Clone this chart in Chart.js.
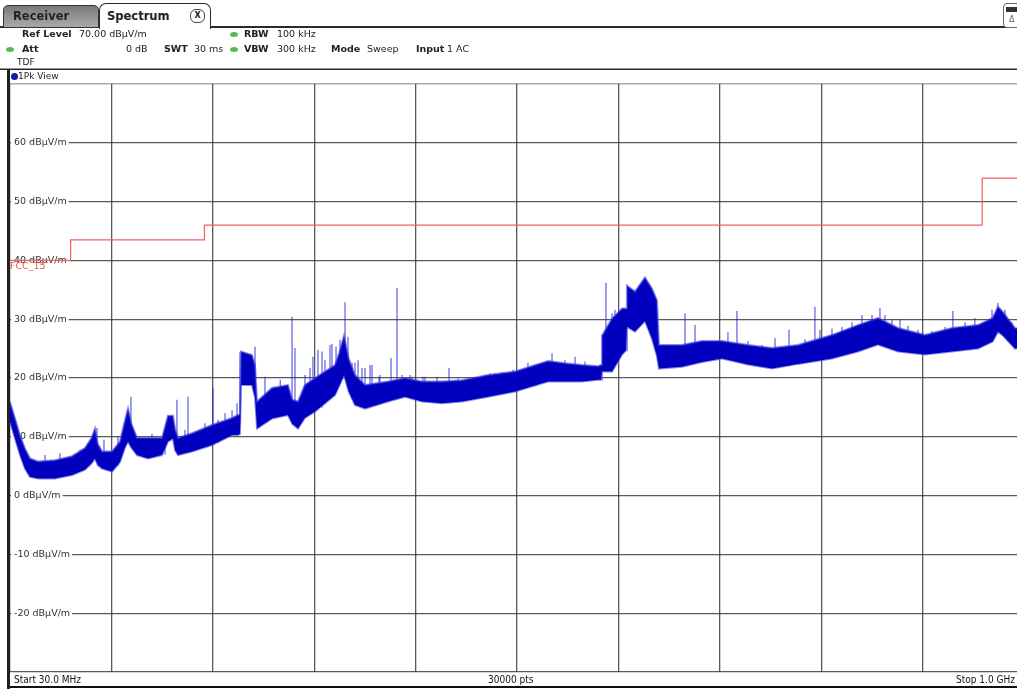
<!DOCTYPE html>
<html><head><meta charset="utf-8">
<script src="https://cdn.jsdelivr.net/npm/chart.js@4/dist/chart.umd.min.js"></script>
<style>
html,body{margin:0;padding:0;background:#fff;width:1017px;height:689px;overflow:hidden;font-family:"DejaVu Sans",Verdana,sans-serif;}
#c{position:absolute;left:0;top:0;}
.a{position:absolute;white-space:nowrap;font-size:9.5px;line-height:12px;color:#222;}
.b{font-weight:bold;}
.ln{position:absolute;}
.dot{position:absolute;width:8px;height:5px;border-radius:50%;background:#5cb85c;}
.tab{position:absolute;box-sizing:border-box;font-weight:bold;font-size:11.5px;line-height:20px;color:#222;}
.bot{position:absolute;top:673px;font-size:10px;line-height:13px;color:#111;font-stretch:condensed;font-family:"DejaVu Sans Condensed","Liberation Sans Narrow","DejaVu Sans",sans-serif;}
</style></head><body>
<canvas id="c" width="1032" height="689"></canvas>

<!-- tab strip -->
<div class="ln" style="left:0;top:26px;width:1017px;height:2px;background:#2a2a2a"></div>
<div class="tab" style="left:3px;top:5px;width:96px;height:23px;background:linear-gradient(#7a7a7a,#a9a9a9);border:1px solid #333;border-radius:5px 5px 0 0;padding-left:9px;">Receiver</div>
<div class="tab" style="left:99px;top:3px;width:112px;height:26px;background:#fff;border:1.5px solid #2a2a2a;border-bottom:none;border-radius:7px 7px 0 0;padding-left:7px;line-height:24px;">Spectrum
 <span style="position:absolute;left:90px;top:5px;width:13px;height:12px;border:1px solid #444;border-radius:6px;font-size:8px;line-height:12px;text-align:center;font-weight:bold;">X</span></div>
<div style="position:absolute;left:1003px;top:3px;width:22px;height:23px;border:1px solid #666;border-radius:4px;background:#fff;">
 <div style="position:absolute;left:2px;top:3px;width:12px;height:5px;background:#333"></div>
 <div style="position:absolute;left:5px;top:11px;font-size:8px;color:#666">&#916;</div></div>

<!-- info rows -->
<span class="a b" style="left:22px;top:28px">Ref Level</span>
<span class="a" style="left:79px;top:28px">70.00 dBµV/m</span>
<div class="dot" style="left:230px;top:32px"></div>
<span class="a b" style="left:244px;top:28px">RBW</span>
<span class="a" style="left:277px;top:28px">100 kHz</span>

<div class="dot" style="left:6px;top:47px"></div>
<span class="a b" style="left:22px;top:43px">Att</span>
<span class="a" style="left:126px;top:43px">0 dB</span>
<span class="a b" style="left:164px;top:43px">SWT</span>
<span class="a" style="left:194px;top:43px">30 ms</span>
<div class="dot" style="left:230px;top:47px"></div>
<span class="a b" style="left:244px;top:43px">VBW</span>
<span class="a" style="left:277px;top:43px">300 kHz</span>
<span class="a b" style="left:331px;top:43px">Mode</span>
<span class="a" style="left:367px;top:43px">Sweep</span>
<span class="a b" style="left:416px;top:43px">Input</span>
<span class="a" style="left:447px;top:43px">1 AC</span>

<span class="a" style="left:17px;top:56px;font-size:9px">TDF</span>

<!-- window frame -->
<div class="ln" style="left:0;top:68px;width:1017px;height:1px;background:#999"></div>
<div class="ln" style="left:0;top:69px;width:1017px;height:1px;background:#222"></div>
<div class="ln" style="left:7px;top:69px;width:3px;height:620px;background:#222"></div>
<div style="position:absolute;left:11px;top:73px;width:7px;height:7px;border-radius:50%;background:#1a1ab0"></div>
<span class="a" style="left:18px;top:70px;font-size:9px;line-height:13px">1Pk View</span>
<div class="ln" style="left:10px;top:83px;width:1007px;height:1px;background:#aaa"></div>

<div class="ln" style="left:10px;top:686px;width:1007px;height:2px;background:#111"></div>
<span class="bot" style="left:14px">Start 30.0 MHz</span>
<span class="bot" style="left:488px">30000 pts</span>
<span class="bot" style="right:2px">Stop 1.0 GHz</span>

<script>
// ---- data ----
const xStartMHz = 30;
const xStopMHz = 1000;
const yTickValues = [60, 50, 40, 30, 20, 10, 0, -10, -20];
const yTickLabels = ['60 dBµV/m','50 dBµV/m','40 dBµV/m','30 dBµV/m','20 dBµV/m','10 dBµV/m','0 dBµV/m','-10 dBµV/m','-20 dBµV/m'];

const limitName = 'FCC_15';
const limitFreq  = [30, 88, 216, 960, 1000];
const limitLevel = [40, 43.5, 46, 54, 54];

// noise band of the 1Pk trace: upper and lower edge (dBµV/m) at each frequency (MHz)
const bandFreq = [30, 34.8, 39.6, 44.3, 49.1, 56.8, 73, 89.3, 101.7, 108, 111.3, 114, 118, 127.6, 135.2, 140, 142.9, 146, 151.5, 162, 175.4, 181.1, 185.9, 188, 190.7, 204.1, 223.2, 242.4, 248.1, 250, 251, 261.5, 264.4, 266.3, 280.6, 295.9, 300, 305.5, 312, 321.8, 340.9, 345, 349.5, 354, 360, 369.6, 391.6, 407.9, 424.1, 443.3, 462.4, 487.3, 513.1, 544.7, 560.9, 577.2, 592.5, 595.4, 596.3, 605.9, 615.5, 619.3, 620.2, 627.9, 637.4, 644.1, 648.9, 650.8, 672.8, 692, 711.1, 736, 759, 783.8, 816.3, 841.2, 860.3, 879.5, 905.3, 931.1, 956, 970, 975.1, 980, 991.4, 1000];
const bandTop    = [15.9, 13.1, 10.2, 8.0, 6.3, 5.8, 6.0, 6.7, 8.1, 9.8, 11.4, 8.8, 7.5, 7.5, 9.2, 12.8, 14.8, 12.3, 9.8, 9.8, 9.8, 13.6, 13.6, 11.3, 9.8, 10.6, 12.0, 13.2, 13.7, 13.8, 24.5, 23.9, 22.2, 16.0, 18.3, 18.8, 16.3, 16.0, 18.8, 20.0, 22.2, 24.3, 27.2, 23.3, 20.5, 18.8, 19.4, 20.0, 19.4, 19.4, 19.6, 20.5, 21.1, 22.9, 22.5, 22.2, 22.0, 22.2, 27.2, 30.1, 31.8, 31.8, 35.7, 34.7, 37.1, 35.2, 33.2, 25.6, 25.6, 26.3, 26.3, 25.6, 25.1, 25.6, 27.3, 29.0, 30.2, 28.5, 27.3, 28.5, 29.0, 30.2, 32.1, 31.2, 28.5, 28.3];
const bandBottom = [12.6, 9.7, 6.9, 4.6, 3.2, 2.9, 2.9, 3.5, 4.4, 5.5, 6.3, 5.2, 4.6, 4.1, 5.7, 8.2, 9.2, 8.2, 6.9, 6.3, 6.9, 9.2, 9.7, 7.7, 6.9, 7.5, 8.6, 10.3, 10.3, 10.5, 18.8, 18.8, 16.7, 11.4, 13.1, 13.7, 12.2, 11.4, 13.2, 14.3, 17.1, 18.7, 20.5, 17.7, 15.4, 14.8, 16.0, 16.8, 16.0, 15.7, 16.0, 16.8, 17.7, 19.4, 19.4, 19.4, 19.7, 19.7, 21.1, 21.1, 24.0, 24.7, 28.7, 27.9, 29.7, 26.7, 23.7, 21.6, 21.9, 22.7, 23.3, 22.3, 21.6, 22.4, 23.3, 24.5, 25.7, 24.5, 24.0, 24.5, 25.0, 26.2, 27.9, 27.2, 25.0, 25.2];

// narrow spurs and noise spikes: frequency (MHz), top and foot (dBµV/m)
const spikeFreq = [63.5, 77.8, 97, 104.6, 113.2, 119.9, 133.3, 145.7, 165.8, 178.3, 189.7, 197.4, 200.3, 216.5, 224.2, 229, 235.7, 242.4, 247.2, 250, 264.4, 273.9, 283, 288.5, 299.8, 302.6, 312.2, 317, 319.8, 324.6, 328.5, 331.3, 336.1, 338, 341.9, 345.7, 350.5, 353.3, 357.2, 360, 362.9, 366.7, 369.6, 374.4, 376.3, 383, 383.9, 394.5, 400.2, 405, 412.6, 414.6, 425, 427, 438.5, 450, 458.6, 472, 484.4, 489.2, 494, 500.6, 511.2, 525.5, 548.5, 560.9, 570.5, 580, 589.6, 600.1, 605.9, 608.7, 615.5, 656.6, 663.3, 675.7, 685.3, 692, 701.5, 716.8, 725.4, 736, 749.4, 761.8, 775.2, 790.5, 800, 804.8, 816.3, 825.9, 835.5, 845, 854.6, 862.2, 867, 873.7, 881.4, 889, 898.6, 912, 924.5, 932, 943.6, 953, 962.7, 969.4, 975.1, 981.8, 988.5];
const spikePeak = [6.9, 7.2, 7.8, 8.6, 11.5, 9.5, 10, 16.8, 10.5, 10.3, 16.3, 11.2, 16.8, 12.3, 18.3, 12.9, 14, 14.5, 15.7, 24.4, 25.3, 20.2, 18.5, 19.7, 30.4, 25.1, 20.5, 21.7, 23.6, 24.8, 24.5, 23, 25.6, 25.8, 25.3, 26.5, 32.9, 27, 22.6, 22.6, 23, 21.7, 21.7, 22.2, 22.2, 20.2, 20.5, 23.4, 35.3, 20.5, 20.5, 20.2, 20.2, 20.2, 20.2, 21.7, 19.9, 19.9, 20.5, 20.8, 20.8, 21, 21.4, 22.6, 24.2, 23, 23.6, 22.8, 22.2, 36.2, 31, 31.6, 31.4, 25.1, 24.8, 31, 29, 26.1, 26.3, 27.8, 31.4, 26.3, 25.6, 26.8, 28.2, 26.6, 32.1, 28.2, 28.4, 28.7, 29.5, 30.7, 30.7, 31.9, 30.7, 29.9, 29.9, 28.9, 28.2, 28.0, 28.7, 31.4, 29.5, 30.2, 29.0, 31.6, 32.8, 31.6, 29.5];
const spikeBase = [3.5, 3.5, 4.5, 5, 7, 5, 5, 11, 6.5, 7, 9, 7.5, 9, 8.5, 10, 9, 10, 10.5, 10.5, 12, 18, 14, 13.5, 14, 14, 13, 13.5, 14, 15, 15, 15, 16, 17, 17, 18, 19, 21, 19, 16.5, 17, 16, 16, 15.5, 16, 16, 16, 16, 17, 17, 17, 17, 17, 16.5, 17, 17, 17, 16.5, 17, 17.5, 18, 18, 18, 19, 19, 20, 20, 20, 20, 20, 22, 23, 23, 25, 22, 22, 23, 23, 23, 23.5, 23.5, 23, 22.5, 22, 22, 23, 23, 24, 24, 24, 25, 25.5, 26, 26, 26, 26, 25.5, 25, 25, 24.5, 24.5, 25, 26, 25.5, 26, 26.5, 27, 28, 27.5, 26];

// ---- build library structures ----
const pts = (xs, ys) => xs.map((x, i) => ({x: x, y: ys[i]}));
const spikeData = [];
spikeFreq.forEach((f, i) => {
  spikeData.push({x: f, y: spikeBase[i]}, {x: f, y: spikePeak[i]}, {x: f, y: null});
});

const labelPlugin = {
  id: 'dbLabels',
  beforeDatasetsDraw(chart) {
    const ctx = chart.ctx, ys = chart.scales.y;
    ctx.save();
    ctx.font = '9.5px "DejaVu Sans", Verdana, sans-serif';
    ctx.textBaseline = 'middle';
    yTickValues.forEach((v, i) => {
      const y = ys.getPixelForValue(v);
      const w = ctx.measureText(yTickLabels[i]).width;
      ctx.fillStyle = '#fff';
      ctx.fillRect(11, y - 3, w + 5, 6);
      ctx.fillStyle = '#333';
      ctx.fillText(yTickLabels[i], 14, y);
    });
    ctx.restore();
  },
  afterDatasetsDraw(chart) {
    const ctx = chart.ctx, ys = chart.scales.y;
    ctx.save();
    ctx.font = '9.5px "DejaVu Sans", Verdana, sans-serif';
    ctx.textBaseline = 'middle';
    ctx.fillStyle = 'rgb(240,85,85)';
    ctx.fillText(limitName, 10, ys.getPixelForValue(limitLevel[0]) + 6);
    ctx.restore();
  }
};

new Chart(document.getElementById('c'), {
  type: 'line',
  data: {
    datasets: [
      { label: 'limit', data: pts(limitFreq, limitLevel), stepped: 'before', borderColor: 'rgb(245,95,95)', borderWidth: 1.2, pointRadius: 0, fill: false, order: 0 },
      { label: 'top', data: pts(bandFreq, bandTop), borderColor: 'rgba(60,60,220,0.6)', borderWidth: 2, pointRadius: 0, fill: '+1', backgroundColor: 'rgb(0,0,190)', order: 1 },
      { label: 'bottom', data: pts(bandFreq, bandBottom), borderColor: 'rgba(60,60,220,0.6)', borderWidth: 2, pointRadius: 0, fill: false, order: 2 },
      { label: 'spikes', data: spikeData, borderColor: 'rgba(40,40,215,0.75)', borderWidth: 1.2, pointRadius: 0, spanGaps: false, fill: false, order: 5 }
    ]
  },
  options: {
    responsive: false,
    animation: false,
    events: [],
    layout: { padding: { left: 10, right: 8, top: 84, bottom: 17 } },
    plugins: { legend: { display: false }, tooltip: { enabled: false } },
    scales: {
      x: {
        type: 'linear', min: xStartMHz, max: xStopMHz,
        ticks: { display: false, stepSize: (xStopMHz - xStartMHz) / 10 },
        grid: { color: 'rgba(60,60,60,0.85)', lineWidth: 1.3, drawTicks: false },
        border: { display: false }
      },
      y: {
        min: -30, max: 70,
        ticks: { display: false, stepSize: 10 },
        grid: { color: 'rgba(60,60,60,0.85)', lineWidth: 1.3, drawTicks: false },
        border: { display: false }
      }
    }
  },
  plugins: [labelPlugin]
});
</script>
</body></html>
